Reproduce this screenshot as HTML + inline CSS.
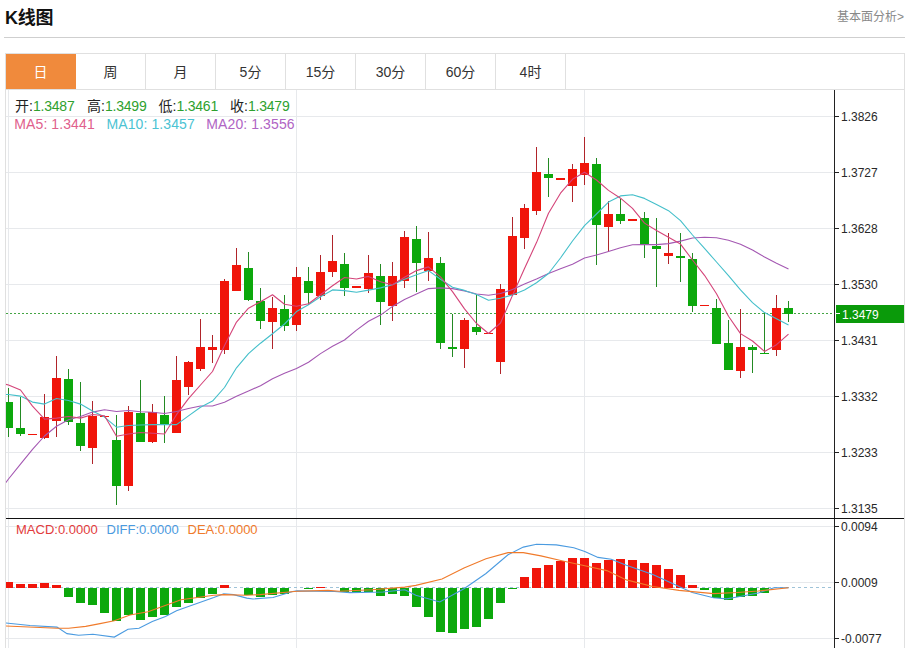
<!DOCTYPE html>
<html><head><meta charset="utf-8">
<style>
*{margin:0;padding:0;box-sizing:border-box}
html,body{width:910px;height:648px;overflow:hidden;background:#fff}
body{position:relative;font-family:"Liberation Sans","Noto Sans CJK SC",sans-serif;color:#333}
svg text{font-family:"Liberation Sans","Noto Sans CJK SC",sans-serif}
.title{position:absolute;left:5px;top:5.5px;letter-spacing:-0.3px;font-size:18px;font-weight:bold;color:#111;line-height:24px}
.more{position:absolute;right:6px;top:9px;font-size:12px;color:#888;line-height:16px}
.hr{position:absolute;left:4px;top:37px;width:901px;height:1px;background:#cfcfcf}
.box{position:absolute;left:5px;top:53px;width:900px;height:600px;border:1px solid #e0e0e0}
.tabs{position:absolute;left:6px;top:54px;height:36px;width:898px;border-bottom:1px solid #e0e0e0}
.tab{float:left;width:70px;height:35px;border-right:1px solid #e0e0e0;text-align:center;font-size:14px;line-height:37px;color:#333}
.tab.on{background:#f08a3c;border-right-color:#f08a3c;color:#fff}
.l1{position:absolute;top:97px;font-size:14px;line-height:18px;white-space:nowrap;color:#222}
.l1 .g{letter-spacing:-0.2px;color:#2ea12e;margin-left:0px}
.l2{position:absolute;top:115px;font-size:14px;line-height:18px;white-space:nowrap;letter-spacing:0.1px}
.m{position:absolute;top:521px;font-size:13px;line-height:18px;white-space:nowrap}
</style></head><body>
<div class="title">K线图</div>
<div class="more">基本面分析&gt;</div>
<div class="hr"></div>
<div class="box"></div>
<svg width="910" height="648" viewBox="0 0 910 648" style="position:absolute;left:0;top:0">
<defs><clipPath id="pc"><rect x="6" y="90" width="828" height="428"/></clipPath><clipPath id="mc"><rect x="6" y="519" width="828" height="129"/></clipPath></defs>
<line x1="6" x2="834" y1="116.5" y2="116.5" stroke="#e7e9ec" stroke-width="1"/>
<line x1="6" x2="834" y1="172.5" y2="172.5" stroke="#e7e9ec" stroke-width="1"/>
<line x1="6" x2="834" y1="228.5" y2="228.5" stroke="#e7e9ec" stroke-width="1"/>
<line x1="6" x2="834" y1="284.5" y2="284.5" stroke="#e7e9ec" stroke-width="1"/>
<line x1="6" x2="834" y1="340.5" y2="340.5" stroke="#e7e9ec" stroke-width="1"/>
<line x1="6" x2="834" y1="396.5" y2="396.5" stroke="#e7e9ec" stroke-width="1"/>
<line x1="6" x2="834" y1="452.5" y2="452.5" stroke="#e7e9ec" stroke-width="1"/>
<line x1="6" x2="834" y1="508.5" y2="508.5" stroke="#e7e9ec" stroke-width="1"/>
<line x1="6" x2="834" y1="526.5" y2="526.5" stroke="#e7e9ec" stroke-width="1"/>
<line x1="6" x2="834" y1="582.5" y2="582.5" stroke="#e7e9ec" stroke-width="1"/>
<line x1="6" x2="834" y1="638.5" y2="638.5" stroke="#e7e9ec" stroke-width="1"/>
<line x1="8.5" x2="8.5" y1="90" y2="648" stroke="#e7e9ec" stroke-width="1"/>
<line x1="296.5" x2="296.5" y1="90" y2="648" stroke="#e7e9ec" stroke-width="1"/>
<line x1="584.5" x2="584.5" y1="90" y2="648" stroke="#e7e9ec" stroke-width="1"/>
<line x1="6" x2="834" y1="313.5" y2="313.5" stroke="#44a544" stroke-width="1" stroke-dasharray="2,2"/>
<g clip-path="url(#pc)" shape-rendering="crispEdges">
<rect x="8.0" y="388.3" width="1" height="48.6" fill="#238a23"/>
<rect x="4.0" y="402.3" width="9" height="25.5" fill="#0ca80c"/>
<rect x="20.0" y="396.9" width="1" height="39.5" fill="#238a23"/>
<rect x="16.0" y="428.3" width="9" height="5.2" fill="#0ca80c"/>
<rect x="28.0" y="433.6" width="9" height="1.5" fill="#f0150a"/>
<rect x="44.0" y="394.0" width="1" height="44.5" fill="#b0242a"/>
<rect x="40.0" y="417.2" width="9" height="21.2" fill="#f0150a"/>
<rect x="56.0" y="356.2" width="1" height="80.7" fill="#b0242a"/>
<rect x="52.0" y="377.7" width="9" height="43.4" fill="#f0150a"/>
<rect x="68.0" y="369.3" width="1" height="56.0" fill="#238a23"/>
<rect x="64.0" y="379.1" width="9" height="42.5" fill="#0ca80c"/>
<rect x="80.0" y="382.1" width="1" height="68.4" fill="#238a23"/>
<rect x="76.0" y="422.8" width="9" height="23.0" fill="#0ca80c"/>
<rect x="92.0" y="401.4" width="1" height="62.6" fill="#b0242a"/>
<rect x="88.0" y="415.9" width="9" height="32.1" fill="#f0150a"/>
<rect x="100.0" y="415.6" width="9" height="1.5" fill="#f0150a"/>
<rect x="116.0" y="415.0" width="1" height="89.8" fill="#238a23"/>
<rect x="112.0" y="439.8" width="9" height="45.7" fill="#0ca80c"/>
<rect x="128.0" y="405.6" width="1" height="85.1" fill="#b0242a"/>
<rect x="124.0" y="411.5" width="9" height="74.5" fill="#f0150a"/>
<rect x="140.0" y="380.1" width="1" height="61.6" fill="#238a23"/>
<rect x="136.0" y="413.3" width="9" height="28.4" fill="#0ca80c"/>
<rect x="152.0" y="403.6" width="1" height="39.6" fill="#b0242a"/>
<rect x="148.0" y="412.4" width="9" height="29.3" fill="#f0150a"/>
<rect x="164.0" y="396.2" width="1" height="46.4" fill="#238a23"/>
<rect x="160.0" y="415.3" width="9" height="9.4" fill="#0ca80c"/>
<rect x="176.0" y="355.8" width="1" height="77.1" fill="#b0242a"/>
<rect x="172.0" y="380.1" width="9" height="52.8" fill="#f0150a"/>
<rect x="188.0" y="361.0" width="1" height="33.8" fill="#b0242a"/>
<rect x="184.0" y="361.9" width="9" height="25.0" fill="#f0150a"/>
<rect x="200.0" y="318.7" width="1" height="51.8" fill="#b0242a"/>
<rect x="196.0" y="346.9" width="9" height="22.0" fill="#f0150a"/>
<rect x="212.0" y="334.6" width="1" height="28.5" fill="#b0242a"/>
<rect x="208.0" y="347.4" width="9" height="2.5" fill="#f0150a"/>
<rect x="224.0" y="279.0" width="1" height="74.8" fill="#b0242a"/>
<rect x="220.0" y="281.4" width="9" height="69.0" fill="#f0150a"/>
<rect x="236.0" y="248.0" width="1" height="43.3" fill="#b0242a"/>
<rect x="232.0" y="265.4" width="9" height="25.9" fill="#f0150a"/>
<rect x="248.0" y="252.0" width="1" height="48.6" fill="#238a23"/>
<rect x="244.0" y="267.7" width="9" height="32.2" fill="#0ca80c"/>
<rect x="260.0" y="288.3" width="1" height="40.7" fill="#238a23"/>
<rect x="256.0" y="300.6" width="9" height="20.8" fill="#0ca80c"/>
<rect x="272.0" y="297.1" width="1" height="52.1" fill="#b0242a"/>
<rect x="268.0" y="308.2" width="9" height="13.7" fill="#f0150a"/>
<rect x="284.0" y="294.8" width="1" height="35.9" fill="#238a23"/>
<rect x="280.0" y="309.4" width="9" height="16.2" fill="#0ca80c"/>
<rect x="296.0" y="267.0" width="1" height="63.7" fill="#b0242a"/>
<rect x="292.0" y="277.0" width="9" height="47.5" fill="#f0150a"/>
<rect x="308.0" y="267.0" width="1" height="38.2" fill="#238a23"/>
<rect x="304.0" y="281.3" width="9" height="11.2" fill="#0ca80c"/>
<rect x="320.0" y="255.2" width="1" height="44.7" fill="#b0242a"/>
<rect x="316.0" y="271.6" width="9" height="24.3" fill="#f0150a"/>
<rect x="332.0" y="234.6" width="1" height="42.8" fill="#b0242a"/>
<rect x="328.0" y="261.0" width="9" height="11.3" fill="#f0150a"/>
<rect x="344.0" y="253.1" width="1" height="43.3" fill="#238a23"/>
<rect x="340.0" y="263.5" width="9" height="24.3" fill="#0ca80c"/>
<rect x="352.0" y="286.4" width="9" height="1.5" fill="#f0150a"/>
<rect x="368.0" y="254.7" width="1" height="37.8" fill="#b0242a"/>
<rect x="364.0" y="273.2" width="9" height="16.2" fill="#f0150a"/>
<rect x="380.0" y="264.4" width="1" height="60.9" fill="#238a23"/>
<rect x="376.0" y="275.6" width="9" height="26.1" fill="#0ca80c"/>
<rect x="392.0" y="262.4" width="1" height="58.8" fill="#b0242a"/>
<rect x="388.0" y="276.0" width="9" height="29.6" fill="#f0150a"/>
<rect x="404.0" y="230.5" width="1" height="57.3" fill="#b0242a"/>
<rect x="400.0" y="236.9" width="9" height="43.7" fill="#f0150a"/>
<rect x="416.0" y="226.0" width="1" height="65.5" fill="#238a23"/>
<rect x="412.0" y="239.1" width="9" height="23.6" fill="#0ca80c"/>
<rect x="428.0" y="231.6" width="1" height="49.6" fill="#b0242a"/>
<rect x="424.0" y="258.3" width="9" height="13.1" fill="#f0150a"/>
<rect x="440.0" y="256.5" width="1" height="92.4" fill="#238a23"/>
<rect x="436.0" y="262.7" width="9" height="80.0" fill="#0ca80c"/>
<rect x="452.0" y="313.8" width="1" height="42.7" fill="#238a23"/>
<rect x="448.0" y="347.0" width="9" height="1.5" fill="#0ca80c"/>
<rect x="464.0" y="318.0" width="1" height="49.7" fill="#b0242a"/>
<rect x="460.0" y="320.0" width="9" height="28.9" fill="#f0150a"/>
<rect x="476.0" y="294.0" width="1" height="40.8" fill="#238a23"/>
<rect x="472.0" y="326.6" width="9" height="5.2" fill="#0ca80c"/>
<rect x="484.0" y="332.5" width="9" height="1.5" fill="#f0150a"/>
<rect x="500.0" y="283.7" width="1" height="90.6" fill="#b0242a"/>
<rect x="496.0" y="289.1" width="9" height="72.9" fill="#f0150a"/>
<rect x="512.0" y="216.6" width="1" height="78.4" fill="#b0242a"/>
<rect x="508.0" y="236.2" width="9" height="58.8" fill="#f0150a"/>
<rect x="524.0" y="203.5" width="1" height="45.9" fill="#b0242a"/>
<rect x="520.0" y="208.0" width="9" height="29.6" fill="#f0150a"/>
<rect x="536.0" y="147.0" width="1" height="67.5" fill="#b0242a"/>
<rect x="532.0" y="172.0" width="9" height="39.4" fill="#f0150a"/>
<rect x="548.0" y="157.6" width="1" height="39.4" fill="#238a23"/>
<rect x="544.0" y="174.1" width="9" height="3.7" fill="#0ca80c"/>
<rect x="556.0" y="178.4" width="9" height="1.5" fill="#f0150a"/>
<rect x="572.0" y="164.1" width="1" height="38.1" fill="#b0242a"/>
<rect x="568.0" y="169.4" width="9" height="17.0" fill="#f0150a"/>
<rect x="584.0" y="137.3" width="1" height="47.7" fill="#b0242a"/>
<rect x="580.0" y="163.3" width="9" height="11.3" fill="#f0150a"/>
<rect x="596.0" y="157.6" width="1" height="107.6" fill="#238a23"/>
<rect x="592.0" y="164.1" width="9" height="60.4" fill="#0ca80c"/>
<rect x="608.0" y="201.1" width="1" height="50.9" fill="#b0242a"/>
<rect x="604.0" y="213.6" width="9" height="13.1" fill="#f0150a"/>
<rect x="620.0" y="198.5" width="1" height="25.9" fill="#238a23"/>
<rect x="616.0" y="214.0" width="9" height="7.2" fill="#0ca80c"/>
<rect x="628.0" y="219.1" width="9" height="1.5" fill="#f0150a"/>
<rect x="644.0" y="212.0" width="1" height="46.2" fill="#238a23"/>
<rect x="640.0" y="217.5" width="9" height="27.8" fill="#0ca80c"/>
<rect x="656.0" y="218.2" width="1" height="68.3" fill="#238a23"/>
<rect x="652.0" y="245.5" width="9" height="3.9" fill="#0ca80c"/>
<rect x="668.0" y="232.8" width="1" height="31.0" fill="#b0242a"/>
<rect x="664.0" y="253.4" width="9" height="2.3" fill="#f0150a"/>
<rect x="680.0" y="233.2" width="1" height="48.7" fill="#238a23"/>
<rect x="676.0" y="255.7" width="9" height="1.8" fill="#0ca80c"/>
<rect x="692.0" y="252.9" width="1" height="58.6" fill="#238a23"/>
<rect x="688.0" y="259.2" width="9" height="47.0" fill="#0ca80c"/>
<rect x="700.0" y="304.6" width="9" height="1.5" fill="#f0150a"/>
<rect x="716.0" y="298.7" width="1" height="45.3" fill="#238a23"/>
<rect x="712.0" y="308.0" width="9" height="36.0" fill="#0ca80c"/>
<rect x="728.0" y="319.9" width="1" height="50.1" fill="#238a23"/>
<rect x="724.0" y="342.8" width="9" height="27.2" fill="#0ca80c"/>
<rect x="740.0" y="309.2" width="1" height="68.4" fill="#b0242a"/>
<rect x="736.0" y="347.0" width="9" height="23.8" fill="#f0150a"/>
<rect x="752.0" y="345.4" width="1" height="27.1" fill="#238a23"/>
<rect x="748.0" y="347.0" width="9" height="2.6" fill="#0ca80c"/>
<rect x="764.0" y="313.1" width="1" height="41.0" fill="#238a23"/>
<rect x="760.0" y="352.6" width="9" height="1.5" fill="#0ca80c"/>
<rect x="776.0" y="295.0" width="1" height="61.4" fill="#b0242a"/>
<rect x="772.0" y="308.0" width="9" height="41.6" fill="#f0150a"/>
<rect x="788.0" y="300.7" width="1" height="21.7" fill="#238a23"/>
<rect x="784.0" y="308.4" width="9" height="5.6" fill="#0ca80c"/>
</g>
<g clip-path="url(#pc)">
<polyline points="-3.5,494.8 8.5,479.0 20.5,464.2 32.5,449.4 44.5,436.0 56.5,426.2 68.5,419.7 80.5,416.5 92.5,412.1 104.5,409.7 116.5,411.5 128.5,410.5 140.5,411.7 152.5,412.2 164.5,413.5 176.5,411.5 188.5,408.5 200.5,406.0 212.5,406.0 224.5,402.3 236.5,396.2 248.5,391.0 260.5,385.7 272.5,378.8 284.5,373.3 296.5,368.4 308.5,362.2 320.5,353.6 332.5,346.2 344.5,340.0 356.5,330.1 368.5,321.3 380.5,315.1 392.5,306.4 404.5,299.5 416.5,294.1 428.5,288.6 440.5,287.9 452.5,288.6 464.5,290.9 476.5,294.0 488.5,295.2 500.5,293.5 512.5,289.5 524.5,284.0 536.5,279.0 548.5,273.5 560.5,268.8 572.5,264.2 584.5,258.0 596.5,255.0 608.5,251.5 620.5,247.8 632.5,244.8 644.5,244.6 656.5,244.6 668.5,243.6 680.5,241.1 692.5,238.0 704.5,237.3 716.5,237.8 728.5,240.2 740.5,244.2 752.5,250.1 764.5,257.0 776.5,263.2 788.5,268.9" fill="none" stroke="#a458b2" stroke-width="1.1" stroke-linejoin="round"/>
<polyline points="-3.5,394.5 8.5,394.5 20.5,396.1 32.5,402.1 44.5,404.1 56.5,398.5 68.5,400.5 80.5,404.1 92.5,411.1 104.5,417.1 116.5,427.2 128.5,425.5 140.5,425.0 152.5,424.6 164.5,424.6 176.5,424.6 188.5,415.9 200.5,407.3 212.5,401.1 224.5,387.5 236.5,367.8 248.5,353.6 260.5,343.2 272.5,333.8 284.5,324.0 296.5,311.6 308.5,304.7 320.5,296.8 332.5,289.9 344.5,290.6 356.5,292.3 368.5,290.1 380.5,287.9 392.5,284.7 404.5,279.3 416.5,274.8 428.5,270.6 440.5,279.3 452.5,287.2 464.5,290.4 476.5,294.6 488.5,300.3 500.5,298.2 512.5,294.9 524.5,290.0 536.5,282.7 548.5,273.5 560.5,258.0 572.5,241.0 584.5,225.6 596.5,214.0 608.5,202.1 620.5,195.9 632.5,194.7 644.5,198.4 656.5,204.6 668.5,210.7 680.5,220.6 692.5,235.0 704.5,248.4 716.5,262.0 728.5,275.6 740.5,289.9 752.5,302.7 764.5,312.6 776.5,318.8 788.5,324.9" fill="none" stroke="#44bfca" stroke-width="1.1" stroke-linejoin="round"/>
<polyline points="-3.5,382.1 8.5,385.0 20.5,390.0 32.5,406.1 44.5,419.1 56.5,418.1 68.5,416.5 80.5,418.1 92.5,414.5 104.5,415.7 116.5,436.2 128.5,434.0 140.5,432.5 152.5,433.2 164.5,434.0 176.5,414.7 188.5,398.6 200.5,385.0 212.5,371.5 224.5,345.6 236.5,322.1 248.5,308.2 260.5,301.7 272.5,294.8 284.5,304.2 296.5,306.2 308.5,303.7 320.5,294.8 332.5,285.7 344.5,277.5 356.5,279.0 368.5,276.4 380.5,281.7 392.5,284.7 404.5,277.3 416.5,270.6 428.5,266.9 440.5,276.8 452.5,291.6 464.5,308.9 476.5,323.5 488.5,333.5 500.5,323.0 512.5,295.4 524.5,268.5 536.5,242.6 548.5,213.3 560.5,193.2 572.5,179.3 584.5,172.2 596.5,180.0 608.5,190.4 620.5,198.2 632.5,208.3 644.5,223.1 656.5,230.5 668.5,237.2 680.5,244.1 692.5,260.0 704.5,275.3 716.5,293.8 728.5,316.3 740.5,333.6 752.5,341.0 764.5,351.4 776.5,344.7 788.5,334.1" fill="none" stroke="#d44479" stroke-width="1.1" stroke-linejoin="round"/>
</g>
<line x1="6" x2="834" y1="587.5" y2="587.5" stroke="#9fc3d8" stroke-width="1" stroke-dasharray="3,3"/>
<g clip-path="url(#mc)" shape-rendering="crispEdges">
<rect x="4.0" y="582.1" width="9" height="5.4" fill="#f0150a"/>
<rect x="16.0" y="584.0" width="9" height="3.5" fill="#f0150a"/>
<rect x="28.0" y="584.3" width="9" height="3.2" fill="#f0150a"/>
<rect x="40.0" y="582.9" width="9" height="4.6" fill="#f0150a"/>
<rect x="52.0" y="585.4" width="9" height="2.1" fill="#f0150a"/>
<rect x="64.0" y="587.5" width="9" height="9.3" fill="#0ca80c"/>
<rect x="76.0" y="587.5" width="9" height="15.9" fill="#0ca80c"/>
<rect x="88.0" y="587.5" width="9" height="17.7" fill="#0ca80c"/>
<rect x="100.0" y="587.5" width="9" height="25.4" fill="#0ca80c"/>
<rect x="112.0" y="587.5" width="9" height="33.7" fill="#0ca80c"/>
<rect x="124.0" y="587.5" width="9" height="27.5" fill="#0ca80c"/>
<rect x="136.0" y="587.5" width="9" height="32.4" fill="#0ca80c"/>
<rect x="148.0" y="587.5" width="9" height="29.1" fill="#0ca80c"/>
<rect x="160.0" y="587.5" width="9" height="27.5" fill="#0ca80c"/>
<rect x="172.0" y="587.5" width="9" height="19.4" fill="#0ca80c"/>
<rect x="184.0" y="587.5" width="9" height="15.5" fill="#0ca80c"/>
<rect x="196.0" y="587.5" width="9" height="10.6" fill="#0ca80c"/>
<rect x="208.0" y="587.5" width="9" height="6.2" fill="#0ca80c"/>
<rect x="220.0" y="585.4" width="9" height="2.1" fill="#f0150a"/>
<rect x="232.0" y="587.5" width="9" height="0.8" fill="#0ca80c"/>
<rect x="244.0" y="587.5" width="9" height="7.1" fill="#0ca80c"/>
<rect x="256.0" y="587.5" width="9" height="9.3" fill="#0ca80c"/>
<rect x="268.0" y="587.5" width="9" height="7.1" fill="#0ca80c"/>
<rect x="280.0" y="587.5" width="9" height="6.2" fill="#0ca80c"/>
<rect x="292.0" y="587.5" width="9" height="0.8" fill="#0ca80c"/>
<rect x="304.0" y="587.5" width="9" height="1.3" fill="#0ca80c"/>
<rect x="316.0" y="586.5" width="9" height="1.0" fill="#f0150a"/>
<rect x="328.0" y="587.5" width="9" height="0.8" fill="#0ca80c"/>
<rect x="340.0" y="587.5" width="9" height="4.5" fill="#0ca80c"/>
<rect x="352.0" y="587.5" width="9" height="4.9" fill="#0ca80c"/>
<rect x="364.0" y="587.5" width="9" height="4.5" fill="#0ca80c"/>
<rect x="376.0" y="587.5" width="9" height="8.9" fill="#0ca80c"/>
<rect x="388.0" y="587.5" width="9" height="6.2" fill="#0ca80c"/>
<rect x="400.0" y="587.5" width="9" height="8.2" fill="#0ca80c"/>
<rect x="412.0" y="587.5" width="9" height="19.2" fill="#0ca80c"/>
<rect x="424.0" y="587.5" width="9" height="29.3" fill="#0ca80c"/>
<rect x="436.0" y="587.5" width="9" height="44.2" fill="#0ca80c"/>
<rect x="448.0" y="587.5" width="9" height="45.3" fill="#0ca80c"/>
<rect x="460.0" y="587.5" width="9" height="41.6" fill="#0ca80c"/>
<rect x="472.0" y="587.5" width="9" height="39.8" fill="#0ca80c"/>
<rect x="484.0" y="587.5" width="9" height="31.0" fill="#0ca80c"/>
<rect x="496.0" y="587.5" width="9" height="15.2" fill="#0ca80c"/>
<rect x="508.0" y="587.5" width="9" height="1.0" fill="#0ca80c"/>
<rect x="520.0" y="576.8" width="9" height="10.7" fill="#f0150a"/>
<rect x="532.0" y="568.0" width="9" height="19.5" fill="#f0150a"/>
<rect x="544.0" y="564.7" width="9" height="22.8" fill="#f0150a"/>
<rect x="556.0" y="560.9" width="9" height="26.6" fill="#f0150a"/>
<rect x="568.0" y="557.6" width="9" height="29.9" fill="#f0150a"/>
<rect x="580.0" y="557.6" width="9" height="29.9" fill="#f0150a"/>
<rect x="592.0" y="563.1" width="9" height="24.4" fill="#f0150a"/>
<rect x="604.0" y="560.0" width="9" height="27.5" fill="#f0150a"/>
<rect x="616.0" y="559.3" width="9" height="28.2" fill="#f0150a"/>
<rect x="628.0" y="560.1" width="9" height="27.4" fill="#f0150a"/>
<rect x="640.0" y="562.7" width="9" height="24.8" fill="#f0150a"/>
<rect x="652.0" y="564.8" width="9" height="22.7" fill="#f0150a"/>
<rect x="664.0" y="568.5" width="9" height="19.0" fill="#f0150a"/>
<rect x="676.0" y="575.1" width="9" height="12.4" fill="#f0150a"/>
<rect x="688.0" y="584.6" width="9" height="2.9" fill="#f0150a"/>
<rect x="700.0" y="587.5" width="9" height="2.4" fill="#0ca80c"/>
<rect x="712.0" y="587.5" width="9" height="10.3" fill="#0ca80c"/>
<rect x="724.0" y="587.5" width="9" height="12.7" fill="#0ca80c"/>
<rect x="736.0" y="587.5" width="9" height="9.5" fill="#0ca80c"/>
<rect x="748.0" y="587.5" width="9" height="8.2" fill="#0ca80c"/>
<rect x="760.0" y="587.5" width="9" height="5.0" fill="#0ca80c"/>
<rect x="772.0" y="587.5" width="9" height="0.8" fill="#0ca80c"/>
<rect x="784.0" y="587.5" width="9" height="0.8" fill="#0ca80c"/>
</g>
<g clip-path="url(#mc)">
<polyline points="-3.5,622.0 5.7,622.9 30.0,625.5 57.0,627.1 67.0,633.6 78.6,635.3 92.9,634.3 114.3,637.1 128.0,629.3 139.0,628.2 152.3,621.6 165.5,616.6 176.5,610.7 191.9,605.2 213.8,597.5 223.7,593.7 233.6,594.6 246.8,598.1 253.0,599.0 273.0,597.5 292.7,591.5 297.0,590.9 334.5,591.5 350.0,592.6 383.0,592.0 404.8,589.8 415.8,595.3 439.8,602.0 464.0,588.8 486.0,573.5 508.0,554.8 523.3,547.1 536.5,544.2 556.3,544.9 573.8,547.7 584.8,551.5 598.0,557.4 611.2,559.2 626.4,565.3 652.8,574.6 679.0,586.5 692.3,592.5 713.5,597.8 726.6,598.9 737.2,597.0 758.3,593.0 774.0,587.8 788.5,587.8" fill="none" stroke="#4b9be0" stroke-width="1.1"/>
<polyline points="-3.5,625.8 5.7,626.0 57.0,628.3 68.6,628.3 85.7,626.4 100.0,623.6 114.3,620.7 130.0,615.0 148.0,611.8 181.0,599.7 213.8,595.3 223.7,594.6 246.8,595.3 260.0,594.6 297.0,591.3 328.0,590.4 339.0,591.3 372.0,589.8 404.8,587.1 415.8,585.4 442.0,579.0 464.0,568.0 486.0,558.7 508.0,552.6 523.3,552.6 540.9,555.9 562.9,561.0 584.8,565.8 606.8,570.6 626.4,579.9 652.8,586.5 679.0,590.4 713.5,593.6 737.2,592.5 758.3,591.0 788.5,587.8" fill="none" stroke="#f07a2a" stroke-width="1.1"/>
</g>
<line x1="834.5" x2="834.5" y1="90" y2="648" stroke="#222" stroke-width="1"/>
<line x1="6" x2="904" y1="518.5" y2="518.5" stroke="#111" stroke-width="1"/>
<line x1="835" x2="839" y1="116.5" y2="116.5" stroke="#222" stroke-width="1"/>
<text x="841" y="120.5" font-size="12" fill="#282828">1.3826</text>
<line x1="835" x2="839" y1="172.5" y2="172.5" stroke="#222" stroke-width="1"/>
<text x="841" y="176.5" font-size="12" fill="#282828">1.3727</text>
<line x1="835" x2="839" y1="228.5" y2="228.5" stroke="#222" stroke-width="1"/>
<text x="841" y="232.5" font-size="12" fill="#282828">1.3628</text>
<line x1="835" x2="839" y1="284.5" y2="284.5" stroke="#222" stroke-width="1"/>
<text x="841" y="288.5" font-size="12" fill="#282828">1.3530</text>
<line x1="835" x2="839" y1="340.5" y2="340.5" stroke="#222" stroke-width="1"/>
<text x="841" y="344.5" font-size="12" fill="#282828">1.3431</text>
<line x1="835" x2="839" y1="396.5" y2="396.5" stroke="#222" stroke-width="1"/>
<text x="841" y="400.5" font-size="12" fill="#282828">1.3332</text>
<line x1="835" x2="839" y1="452.5" y2="452.5" stroke="#222" stroke-width="1"/>
<text x="841" y="456.5" font-size="12" fill="#282828">1.3233</text>
<line x1="835" x2="839" y1="508.5" y2="508.5" stroke="#222" stroke-width="1"/>
<text x="841" y="512.5" font-size="12" fill="#282828">1.3135</text>
<line x1="835" x2="839" y1="526.5" y2="526.5" stroke="#222" stroke-width="1"/>
<text x="841" y="530.5" font-size="12" fill="#282828">0.0094</text>
<line x1="835" x2="839" y1="582.5" y2="582.5" stroke="#222" stroke-width="1"/>
<text x="841" y="586.5" font-size="12" fill="#282828">0.0009</text>
<line x1="835" x2="839" y1="638.5" y2="638.5" stroke="#222" stroke-width="1"/>
<text x="841" y="642.5" font-size="12" fill="#282828">-0.0077</text>
<rect x="836" y="305" width="68" height="18" fill="#0a9a0a"/>
<line x1="836" x2="840" y1="313.5" y2="313.5" stroke="#fff" stroke-width="1"/>
<text x="842" y="318.5" font-size="12" fill="#fff">1.3479</text>
</svg>
<div class="tabs"><div class="tab on">日</div><div class="tab">周</div><div class="tab">月</div><div class="tab">5分</div><div class="tab">15分</div><div class="tab">30分</div><div class="tab">60分</div><div class="tab">4时</div></div>
<div class="l1" style="left:15px">开:<span class="g">1.3487</span></div>
<div class="l1" style="left:87px">高:<span class="g">1.3499</span></div>
<div class="l1" style="left:158.5px">低:<span class="g">1.3461</span></div>
<div class="l1" style="left:230px">收:<span class="g">1.3479</span></div>
<div class="l2" style="left:14.3px;color:#e0608c">MA5: 1.3441</div>
<div class="l2" style="left:106.5px;color:#4cc3d3">MA10: 1.3457</div>
<div class="l2" style="left:206.3px;color:#b064c4">MA20: 1.3556</div>
<div class="m" style="left:16px;color:#e23b3b">MACD:0.0000</div>
<div class="m" style="left:106.5px;color:#4a9ae0">DIFF:0.0000</div>
<div class="m" style="left:187.5px;color:#f07a2a">DEA:0.0000</div>
</body></html>
